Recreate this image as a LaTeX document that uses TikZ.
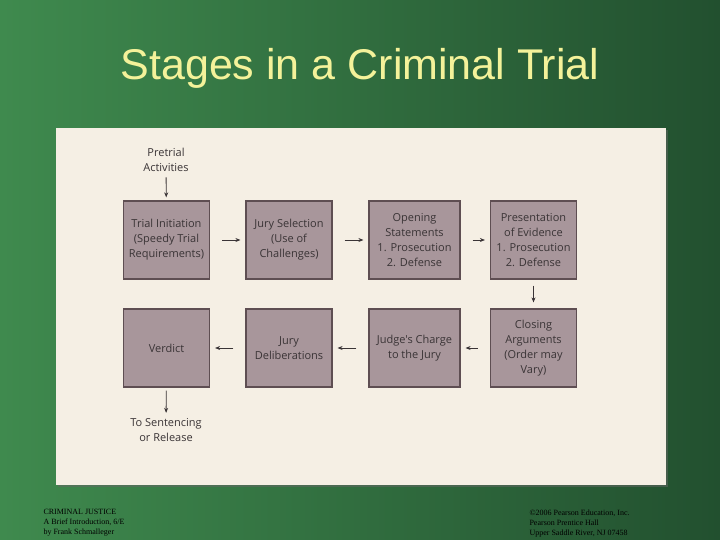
\documentclass[tikz,border=0pt]{standalone}
\usepackage{fontspec}
\setmainfont{Liberation Serif}
\setsansfont{Liberation Sans}
\newfontfamily\boxfont{Open Sans}
\usetikzlibrary{arrows.meta,shadows}
\definecolor{gl}{HTML}{3F8A4E}
\definecolor{gr}{HTML}{22502F}
\definecolor{panel}{HTML}{F5EFE4}
\definecolor{boxf}{HTML}{A8969B}
\definecolor{boxd}{HTML}{5E4E52}
\definecolor{tt}{HTML}{F4F29A}
\definecolor{txt}{HTML}{3A3436}
\begin{document}
\begin{tikzpicture}[x=1pt,y=-1pt,
  stage/.style={draw=boxd,line width=1.2pt,fill=boxf,minimum width=86pt,minimum height=78pt,align=center,font=\boxfont\fontsize{11}{15}\selectfont,text=txt,inner sep=2pt},
  lab/.style={align=center,font=\boxfont\fontsize{11}{15}\selectfont,text=txt},
  arr/.style={-{Stealth[length=5pt,width=4pt]},line width=0.8pt,draw=txt,shorten <=12pt,shorten >=5pt},
  foot/.style={anchor=north west,align=left,font=\fontsize{8}{10}\selectfont,text=black}]
\useasboundingbox (0,0) rectangle (720,540);
\shade[left color=gl,right color=gr] (0,0) rectangle (720,540);
\node[font=\sffamily\fontsize{43}{48}\selectfont,text=tt] (title) at (360,68) {Stages in a Criminal Trial};
\fill[black!60,opacity=0.5] (58,130) rectangle (668,487);
\fill[panel] (56,128) rectangle (666,485);
\node[stage] (s1) at (166.5,240) {Trial Initiation\\(Speedy Trial\\Requirements)};
\node[stage] (s2) at (289,240) {Jury Selection\\(Use of\\Challenges)};
\node[stage,minimum width=91pt] (s3) at (414.5,240) {Opening\\Statements\\1. Prosecution\\2. Defense};
\node[stage] (s4) at (533.5,240) {Presentation\\of Evidence\\1. Prosecution\\2. Defense};
\node[stage] (s5) at (166.5,348) {Verdict};
\node[stage] (s6) at (289,348) {Jury\\Deliberations};
\node[stage,minimum width=91pt] (s7) at (414.5,348) {Judge's Charge\\to the Jury};
\node[stage] (s8) at (533.5,348) {Closing\\Arguments\\(Order may\\Vary)};
\node[lab] (pre) at (166,160) {Pretrial\\Activities};
\node[lab] (post) at (166,430) {To Sentencing\\or Release};
\draw[arr,shorten <=2pt,shorten >=3pt] (pre) -- (s1);
\draw[arr] (s1) -- (s2);
\draw[arr] (s2) -- (s3);
\draw[arr] (s3) -- (s4);
\draw[arr,shorten <=6pt,shorten >=6pt] (s4) -- (s8);
\draw[arr] (s8) -- (s7);
\draw[arr] (s7) -- (s6);
\draw[arr] (s6) -- (s5);
\draw[arr,shorten <=3pt,shorten >=2pt] (s5) -- (post);
\node[foot] (f1) at (40,506) {CRIMINAL JUSTICE\\A Brief Introduction, 6/E\\by Frank Schmalleger};
\node[foot] (f2) at (526,506) {©2006 Pearson Education, Inc.\\Pearson Prentice Hall\\Upper Saddle River, NJ 07458};
\end{tikzpicture}
\end{document}
